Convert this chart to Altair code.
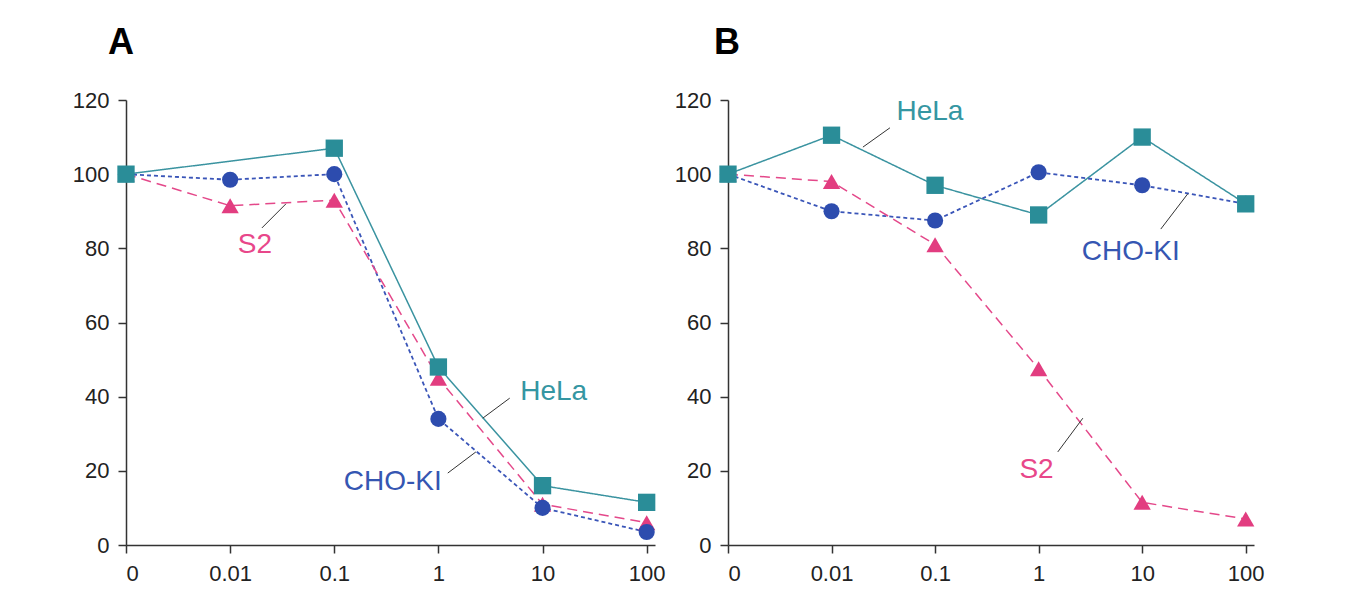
import altair as alt
import pandas as pd

# ---- data -------------------------------------------------------------
x_labels = ["0", "0.01", "0.1", "1", "10", "100"]
x_idx = [0, 1, 2, 3, 4, 5]

# Panel A
a_hela_x = [0, 2, 3, 4, 5]
a_hela_y = [100, 107, 48, 16, 11.5]
a_cho_x = [0, 1, 2, 3, 4, 5]
a_cho_y = [100, 98.5, 100, 34, 10, 3.5]
a_s2_x = [0, 1, 2, 3, 4, 5]
a_s2_y = [100, 91.5, 93, 45, 11, 6]

# Panel B
b_hela_x = [0, 1, 2, 3, 4, 5]
b_hela_y = [100, 110.5, 97, 89, 110, 92]
b_cho_x = [0, 1, 2, 3, 4, 5]
b_cho_y = [100, 90, 87.5, 100.5, 97, 92]
b_s2_x = [0, 1, 2, 3, 4, 5]
b_s2_y = [100, 98, 81, 47.5, 11.5, 7]

series = ["HeLa", "CHO-KI", "S2"]

# label positions (data coordinates)
a_label_x = [4.107, 2.562, 1.238]
a_label_y = [41.3, 17.0, 80.9]
b_label_x = [1.95, 3.89, 2.98]
b_label_y = [116.8, 79.0, 20.2]

# leader lines (data coordinates)
a_lead_x1 = [3.426, 3.09, 1.305]
a_lead_y1 = [34.2, 19.4, 85.5]
a_lead_x2 = [3.685, 3.36, 1.536]
a_lead_y2 = [39.6, 25.1, 92.0]
b_lead_x1 = [1.303, 4.18, 3.185]
b_lead_y1 = [107.3, 85.2, 25.1]
b_lead_x2 = [1.564, 4.44, 3.427]
b_lead_y2 = [112.5, 94.7, 34.2]

# ---- styles -----------------------------------------------------------
line_col = {"HeLa": "#3a93a0", "CHO-KI": "#3a55b8", "S2": "#e4488a"}
pt_col = {"HeLa": "#2a8d98", "CHO-KI": "#2d4cae", "S2": "#e23d80"}
txt_col = {"HeLa": "#3596a2", "CHO-KI": "#3556b2", "S2": "#e8478a"}
dash = {"HeLa": [1, 0], "CHO-KI": [4, 3], "S2": [10, 6]}
width_ln = {"HeLa": 1.5, "CHO-KI": 1.8, "S2": 1.5}
shape = {"HeLa": "square", "CHO-KI": "circle", "S2": "triangle-up"}
size = {"HeLa": 300, "CHO-KI": 260, "S2": 300}

label_expr = "[" + ",".join("'%s'" % s for s in x_labels) + "][datum.value]"

FONT = "Liberation Sans"


def panel(xs, ys, lab_x, lab_y, l_x1, l_y1, l_x2, l_y2, letter, dx, width):
    xscale = alt.Scale(domain=[0, 5.08], nice=False, zero=False)
    yscale = alt.Scale(domain=[0, 120], nice=False)
    xaxis = alt.Axis(values=x_idx, labelExpr=label_expr, title=None, grid=False,
                     labelPadding=10)
    yaxis = alt.Axis(values=[0, 20, 40, 60, 80, 100, 120], title=None, grid=False,
                     labelPadding=9)
    layers = []
    for s in series:
        df = pd.DataFrame({"x": xs[s], "y": ys[s]})
        layers.append(
            alt.Chart(df).mark_line(color=line_col[s], strokeWidth=width_ln[s],
                                    strokeDash=dash[s]).encode(
                x=alt.X("x:Q", scale=xscale, axis=xaxis),
                y=alt.Y("y:Q", scale=yscale, axis=yaxis),
            )
        )
    for s in ["S2", "CHO-KI", "HeLa"]:
        df = pd.DataFrame({"x": xs[s], "y": ys[s]})
        layers.append(
            alt.Chart(df).mark_point(shape=shape[s], filled=True, opacity=1,
                                     size=size[s], color=pt_col[s]).encode(
                x=alt.X("x:Q", scale=xscale),
                y=alt.Y("y:Q", scale=yscale),
            )
        )
    lead = pd.DataFrame({"x": l_x1, "y": l_y1, "x2": l_x2, "y2": l_y2})
    layers.append(
        alt.Chart(lead).mark_rule(color="#333333", strokeWidth=1).encode(
            x=alt.X("x:Q", scale=xscale), y=alt.Y("y:Q", scale=yscale),
            x2="x2:Q", y2="y2:Q",
        )
    )
    lab = pd.DataFrame({"x": lab_x, "y": lab_y, "t": series})
    layers.append(
        alt.Chart(lab).mark_text(font=FONT, fontSize=28, align="center",
                                 baseline="middle").encode(
            x=alt.X("x:Q", scale=xscale), y=alt.Y("y:Q", scale=yscale),
            text="t:N",
            color=alt.Color("t:N", scale=alt.Scale(domain=series,
                                                  range=[txt_col[s] for s in series]),
                            legend=None),
        )
    )
    return alt.layer(*layers).properties(
        width=width, height=445,
        title=alt.TitleParams(letter, anchor="start", dx=dx, fontSize=36,
                              fontWeight="bold", font=FONT, color="#000000",
                              offset=27, frame="group"),
    )


a = panel({"HeLa": a_hela_x, "CHO-KI": a_cho_x, "S2": a_s2_x},
          {"HeLa": a_hela_y, "CHO-KI": a_cho_y, "S2": a_s2_y},
          a_label_x, a_label_y, a_lead_x1, a_lead_y1, a_lead_x2, a_lead_y2,
          "A", -18, 529)
b = panel({"HeLa": b_hela_x, "CHO-KI": b_cho_x, "S2": b_s2_x},
          {"HeLa": b_hela_y, "CHO-KI": b_cho_y, "S2": b_s2_y},
          b_label_x, b_label_y, b_lead_x1, b_lead_y1, b_lead_x2, b_lead_y2,
          "B", -14, 526)

chart = alt.hconcat(a, b, spacing=8).properties(
    padding={"left": 64, "top": 17, "right": 5, "bottom": 5},
    background="white",
).configure_view(stroke=None).configure_axis(
    domainColor="#333333", domainWidth=1.5, tickColor="#333333", tickWidth=1.5,
    tickSize=8, labelFont=FONT, labelFontSize=22, labelColor="#222222",
)

chart.save("out.html", embed_options={"renderer": "svg", "actions": False})
